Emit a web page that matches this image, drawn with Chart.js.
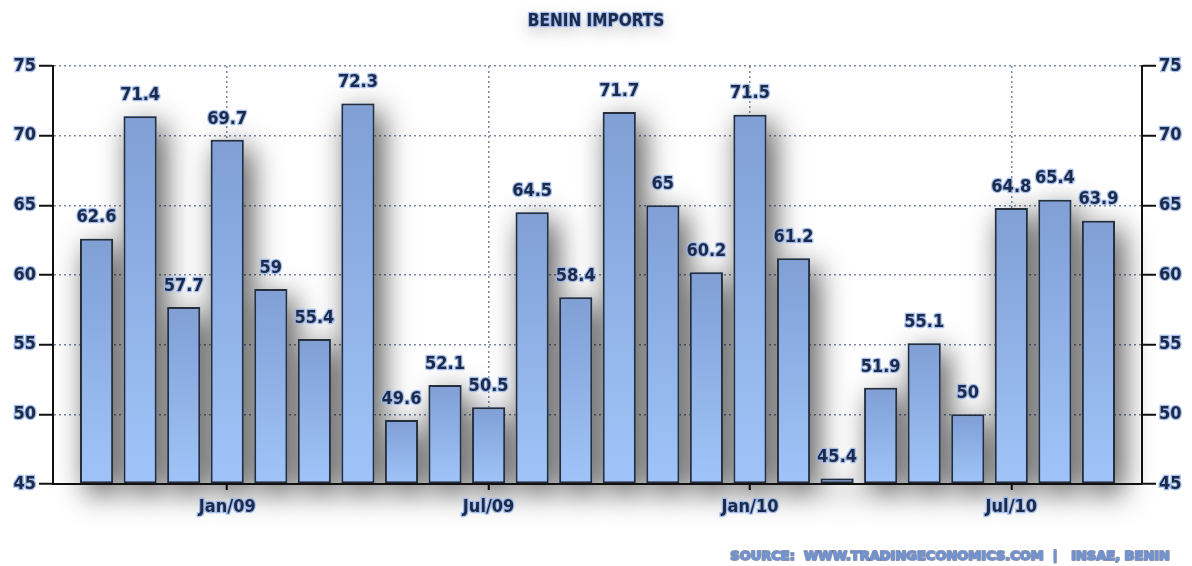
<!DOCTYPE html>
<html>
<head>
<meta charset="utf-8">
<title>Benin Imports</title>
<script src="https://cdn.jsdelivr.net/npm/chart.js@4"></script>
<style>
    html, body { margin: 0; padding: 0; background: #ffffff; }
    #wrap { width: 1192px; height: 566px; position: relative; }
</style>
</head>
<body>
<div id="wrap"><canvas id="importsChart"></canvas></div>
<script>
// monthly values, Oct 2008 .. Sep 2010
const months = ['Oct/08', 'Nov/08', 'Dec/08', 'Jan/09', 'Feb/09', 'Mar/09', 'Apr/09', 'May/09',
    'Jun/09', 'Jul/09', 'Aug/09', 'Sep/09', 'Oct/09', 'Nov/09', 'Dec/09', 'Jan/10', 'Feb/10',
    'Mar/10', 'Apr/10', 'May/10', 'Jun/10', 'Jul/10', 'Aug/10', 'Sep/10'];
const imports = [62.6, 71.4, 57.7, 69.7, 59, 55.4, 72.3, 49.6, 52.1, 50.5, 64.5, 58.4,
    71.7, 65, 60.2, 71.5, 61.2, 45.4, 51.9, 55.1, 50, 64.8, 65.4, 63.9];
const yTicks = [45, 50, 55, 60, 65, 70, 75];
const xTickLabels = ['Jan/09', 'Jul/09', 'Jan/10', 'Jul/10'];

const titleText = 'BENIN IMPORTS';
const sourceText = 'SOURCE:  WWW.TRADINGECONOMICS.COM  |   INSAE, BENIN';

const textColor = '#1d2b4a';
const glowColor = 'rgba(150,180,235,0.85)';
const condensed = "'DejaVu Sans Condensed', 'DejaVu Sans', sans-serif";
const tickFont = { family: condensed, size: 18, weight: 'bold' };

// one empty slot on each side so the bars sit a full step in from the axes
const labels = [''].concat(months, ['']);
const values = [null].concat(imports, [null]);

const isMarked = (i) => xTickLabels.includes(labels[i]);

// soft grey drop shadow behind every bar
const barShadow = {
    id: 'barShadow',
    beforeDatasetsDraw(chart) {
        const ctx = chart.ctx;
        const area = chart.chartArea;
        ctx.save();
        ctx.shadowColor = 'rgba(0,0,0,0.7)';
        ctx.shadowBlur = 30;
        ctx.shadowOffsetX = 7;
        ctx.shadowOffsetY = 9;
        ctx.fillStyle = '#9ab6e4';
        chart.getDatasetMeta(0).data.forEach(bar => {
            const p = bar.getProps(['x', 'y', 'width'], true);
            if (isNaN(p.y) || isNaN(p.x)) return;
            ctx.fillRect(p.x - p.width / 2, p.y, p.width, area.bottom - p.y);
        });
        ctx.restore();
    }
};

const glowText = (ctx, str, x, y) => {
    ctx.lineJoin = 'round';
    ctx.strokeStyle = glowColor;
    ctx.lineWidth = 2.5;
    ctx.strokeText(str, x, y);
    ctx.fillStyle = textColor;
    ctx.fillText(str, x, y);
};

// value labels above bars, title and source line
const chartText = {
    id: 'chartText',
    afterDatasetsDraw(chart) {
        const ctx = chart.ctx;
        ctx.save();
        ctx.font = `bold 18px ${condensed}`;
        ctx.textAlign = 'center';
        ctx.textBaseline = 'bottom';
        chart.getDatasetMeta(0).data.forEach((bar, i) => {
            if (values[i] == null) return;
            glowText(ctx, String(values[i]), bar.x, bar.y - 12);
        });
        ctx.restore();
    },
    afterDraw(chart) {
        const ctx = chart.ctx;
        ctx.save();
        ctx.textAlign = 'center';
        ctx.textBaseline = 'middle';
        ctx.font = `bold 17px ${condensed}`;
        ctx.shadowColor = 'rgba(0,0,0,0.35)';
        ctx.shadowBlur = 16;
        ctx.shadowOffsetY = 6;
        ctx.fillStyle = textColor;
        ctx.fillText(titleText, 596, 22);
        ctx.shadowColor = 'transparent';
        glowText(ctx, titleText, 596, 22);

        ctx.textAlign = 'right';
        ctx.font = "bold 13px 'DejaVu Sans', sans-serif";
        ctx.lineWidth = 2;
        ctx.strokeStyle = 'rgba(40,60,110,0.55)';
        ctx.strokeText(sourceText, 1170, 557);
        ctx.fillStyle = '#6d92d6';
        ctx.fillText(sourceText, 1170, 557);
        ctx.restore();
    }
};

const barFill = (c) => {
    const chart = c.chart;
    const area = chart.chartArea;
    if (!area || c.raw == null) return '#8cade2';
    const top = chart.scales.y.getPixelForValue(c.raw);
    const g = chart.ctx.createLinearGradient(0, top, 0, area.bottom);
    g.addColorStop(0, '#7f9fd5');
    g.addColorStop(1, '#a0c4f9');
    return g;
};

const yAxis = (side, width) => ({
    position: side,
    min: 45,
    max: 75,
    afterBuildTicks: (scale) => { scale.ticks = yTicks.map(v => ({ value: v })); },
    afterFit: (scale) => { scale.width = width; },
    grid: {
        color: '#7a88a4',
        lineWidth: 1.5,
        drawOnChartArea: side === 'left',
        tickLength: 14,
        tickColor: '#111',
        tickWidth: 2,
        tickBorderDash: []
    },
    border: { display: true, color: '#111', width: 2, dash: [2, 3], z: 1 },
    ticks: {
        z: 1,
        padding: 3,
        color: textColor,
        font: tickFont,
        textStrokeColor: glowColor,
        textStrokeWidth: 2.5
    }
});

new Chart(document.getElementById('importsChart'), {
    type: 'bar',
    data: {
        labels: labels,
        datasets: [{
            label: 'Benin Imports',
            data: values,
            base: 45,
            backgroundColor: barFill,
            borderColor: '#262e3b',
            borderWidth: 2,
            borderSkipped: false,
            barPercentage: 0.76,
            categoryPercentage: 1
        }]
    },
    options: {
        responsive: true,
        maintainAspectRatio: false,
        animation: false,
        layout: { padding: { top: 66, left: 0, right: 0, bottom: 0 } },
        plugins: {
            legend: { display: false },
            title: { display: false },
            tooltip: { enabled: false }
        },
        scales: {
            x: {
                offset: false,
                afterFit: (scale) => { scale.height = 82; },
                grid: {
                    offset: false,
                    color: (c) => isMarked(c.index) ? '#7a88a4' : 'transparent',
                    lineWidth: 1.5,
                    tickLength: 6,
                    tickColor: (c) => isMarked(c.index) ? '#111' : 'transparent',
                    tickWidth: 2,
                    tickBorderDash: []
                },
                border: { display: true, color: '#111', width: 2, dash: [2, 3], z: 1 },
                ticks: {
                    z: 1,
                    autoSkip: false,
                    maxRotation: 0,
                    padding: 7,
                    color: textColor,
                    font: tickFont,
                    textStrokeColor: glowColor,
                    textStrokeWidth: 2.5,
                    callback: (val, i) => isMarked(i) ? labels[i] : ''
                }
            },
            y: yAxis('left', 53),
            y1: yAxis('right', 50)
        }
    },
    plugins: [barShadow, chartText]
});
</script>
</body>
</html>
